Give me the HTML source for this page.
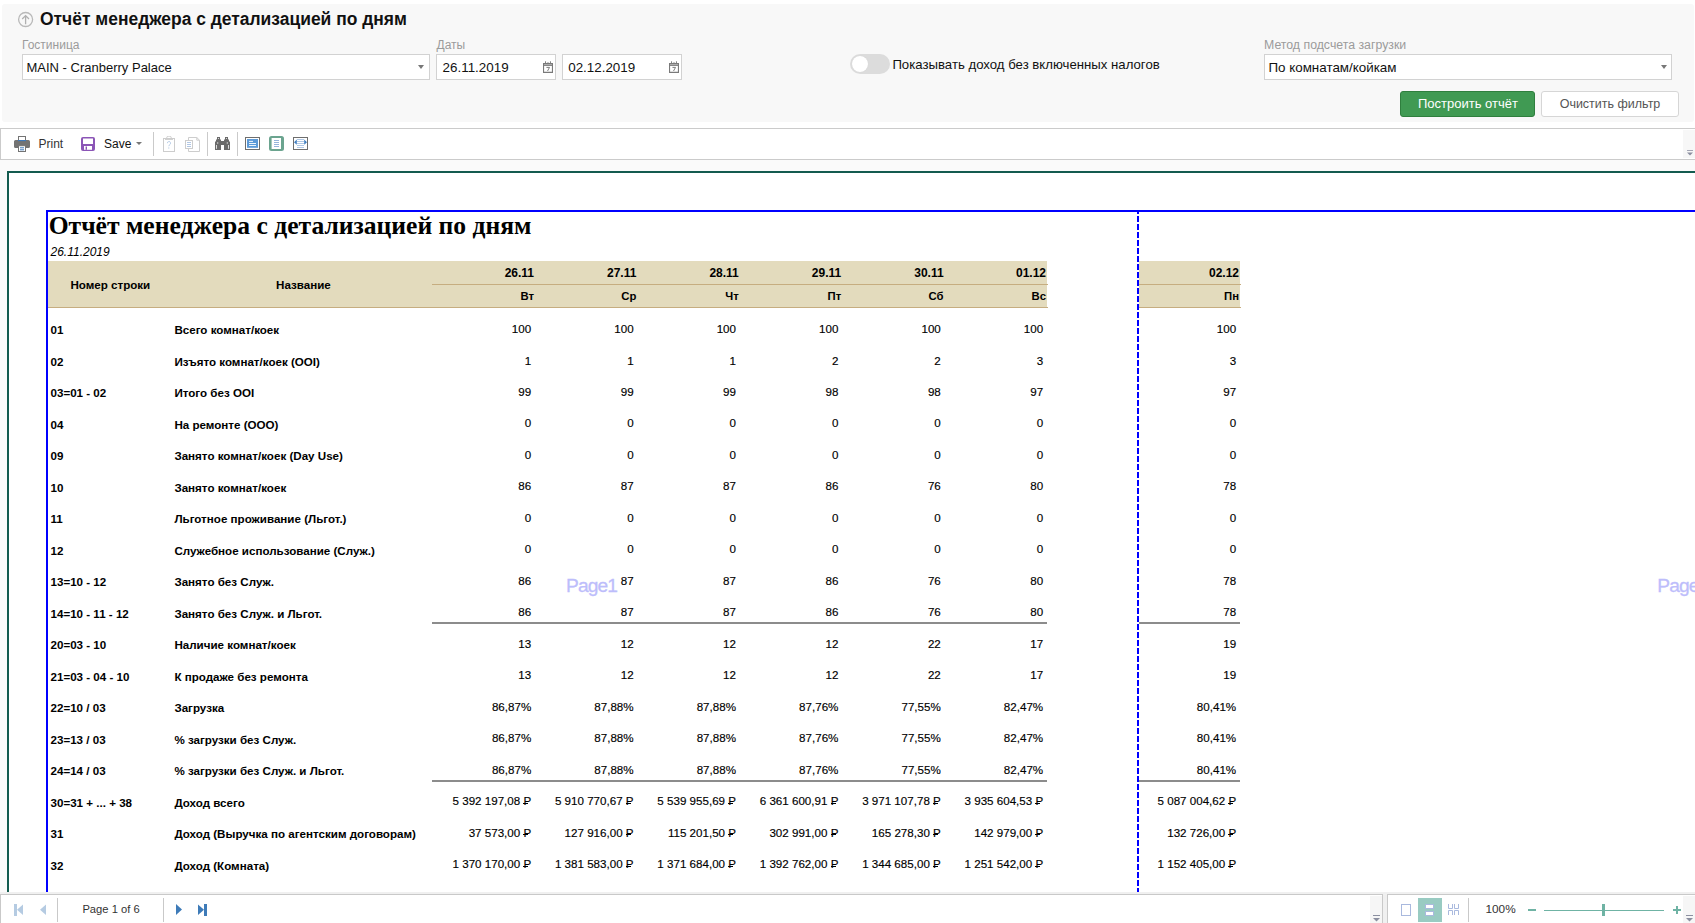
<!DOCTYPE html>
<html><head><meta charset="utf-8">
<style>
*{box-sizing:border-box;margin:0;padding:0}
html,body{width:1695px;height:923px;overflow:hidden;background:#fff;font-family:"Liberation Sans",sans-serif;color:#000}
.a{position:absolute;white-space:nowrap}
.arr{width:0;height:0;border-left:3.5px solid transparent;border-right:3.5px solid transparent;border-top:4.5px solid #777}
.rub{position:relative;display:inline-block}
.rub:after{content:"";position:absolute;left:0px;width:0.42em;top:0.66em;height:1px;background:currentColor}
</style></head><body>
<div class="a" style="left:2px;top:4px;width:1692px;height:118px;background:#f8f8f8;border-radius:3px"></div>
<svg class="a" style="left:17px;top:11px" width="18" height="18" viewBox="0 0 18 18"><circle cx="8.6" cy="8.5" r="7" fill="none" stroke="#b9b9b9" stroke-width="1.3"/><path d="M8.6 13.3V4.6M5.2 8L8.6 4.6L12 8" fill="none" stroke="#b0b0b0" stroke-width="1.3"/></svg>
<div class="a" style="top:11.23px;font-size:17.45px;line-height:17.45px;color:#111;font-weight:bold;left:40.00px;">Отчёт менеджера с детализацией по дням</div>
<div class="a" style="top:39.44px;font-size:12px;line-height:12px;color:#9b9b9b;left:22.00px;">Гостиница</div>
<div class="a" style="left:22px;top:54px;width:408px;height:26px;background:#fff;border:1px solid #d2d2d2"></div>
<div class="a" style="top:61.20px;font-size:13px;line-height:13px;color:#111;left:26.50px;">MAIN - Cranberry Palace</div>
<div class="a arr" style="left:418px;top:65px"></div>
<div class="a" style="top:39.44px;font-size:12px;line-height:12px;color:#9b9b9b;left:436.50px;">Даты</div>
<div class="a" style="left:436px;top:54px;width:120px;height:26px;background:#fff;border:1px solid #d2d2d2"></div>
<div class="a" style="left:562px;top:54px;width:120px;height:26px;background:#fff;border:1px solid #d2d2d2"></div>
<div class="a" style="top:60.56px;font-size:13.4px;line-height:13.4px;color:#111;left:442.60px;">26.11.2019</div>
<div class="a" style="top:60.56px;font-size:13.4px;line-height:13.4px;color:#111;left:568.20px;">02.12.2019</div>
<svg class="a" style="left:543px;top:61px" width="10" height="12" viewBox="0 0 11 12" preserveAspectRatio="none"><path d="M0.6 2.6H10.4V11.4H0.6Z" fill="none" stroke="#7a7a7a" stroke-width="1.2"/><path d="M0.6 4.2H10.4" stroke="#7a7a7a" stroke-width="1.4"/><path d="M2.8 0.3V3M8.2 0.3V3M5.5 1.2V2.6" stroke="#7a7a7a" stroke-width="1"/><path d="M3.8 6.4H7.2L5 10" fill="none" stroke="#7a7a7a" stroke-width="1"/></svg>
<svg class="a" style="left:669px;top:61px" width="10" height="12" viewBox="0 0 11 12" preserveAspectRatio="none"><path d="M0.6 2.6H10.4V11.4H0.6Z" fill="none" stroke="#7a7a7a" stroke-width="1.2"/><path d="M0.6 4.2H10.4" stroke="#7a7a7a" stroke-width="1.4"/><path d="M2.8 0.3V3M8.2 0.3V3M5.5 1.2V2.6" stroke="#7a7a7a" stroke-width="1"/><path d="M3.8 6.4H7.2L5 10" fill="none" stroke="#7a7a7a" stroke-width="1"/></svg>
<div class="a" style="left:850px;top:54px;width:40px;height:20px;background:#dcdcdc;border-radius:10px"></div>
<div class="a" style="left:852px;top:56px;width:16px;height:16px;background:#fff;border-radius:8px;box-shadow:0 0 1px #ccc"></div>
<div class="a" style="top:58.13px;font-size:13.2px;line-height:13.2px;color:#111;left:892.40px;">Показывать доход без включенных налогов</div>
<div class="a" style="top:39.19px;font-size:12.3px;line-height:12.3px;color:#9b9b9b;left:1264.00px;">Метод подсчета загрузки</div>
<div class="a" style="left:1264px;top:54px;width:408px;height:26px;background:#fff;border:1px solid #d2d2d2"></div>
<div class="a" style="top:60.86px;font-size:13.4px;line-height:13.4px;color:#111;left:1268.40px;">По комнатам/койкам</div>
<div class="a arr" style="left:1660.5px;top:65px"></div>
<div class="a" style="left:1400px;top:91px;width:135px;height:26px;background:#409a53;border:1px solid #2f7f3e;border-radius:3px"></div>
<div class="a" style="top:97.20px;font-size:13px;line-height:13px;color:#fff;left:1168.00px;width:600px;text-align:center;">Построить отчёт</div>
<div class="a" style="left:1541px;top:91px;width:138px;height:26px;background:#fff;border:1px solid #d6d6d6;border-radius:3px"></div>
<div class="a" style="top:97.62px;font-size:12.5px;line-height:12.5px;color:#555;left:1310.00px;width:600px;text-align:center;">Очистить фильтр</div>
<div class="a" style="left:0px;top:128px;width:1695px;height:32px;background:#fff;border-top:1px solid #cbcbcb;border-bottom:1px solid #cbcbcb;border-left:1px solid #cbcbcb"></div>
<div class="a" style="left:1683px;top:130px;width:12px;height:28px;background:#f7f7f7"></div>
<svg class="a" style="left:1687px;top:150px" width="6" height="6" viewBox="0 0 7 7"><path d="M0 0.5H7" stroke="#8b8fa0" stroke-width="1"/><path d="M0 3H7L3.5 6.5Z" fill="#8b8fa0"/></svg>
<svg class="a" style="left:14px;top:136px" width="16" height="16" viewBox="0 0 16 16"><rect x="4.5" y="0.5" width="7" height="5" fill="#fff" stroke="#737373" stroke-width="1"/><rect x="4" y="4" width="8" height="1.2" fill="#3d78b8"/><path d="M1.5 4H4V5.5H12V4H14.5A1.5 1.5 0 0 1 16 5.5V10.5A1.5 1.5 0 0 1 14.5 12H1.5A1.5 1.5 0 0 1 0 10.5V5.5A1.5 1.5 0 0 1 1.5 4Z" fill="#737373"/><rect x="4.5" y="9.7" width="7" height="5.8" fill="#fff" stroke="#737373" stroke-width="1"/><rect x="6" y="11.3" width="4" height="1" fill="#3d78b8"/><rect x="6" y="13.3" width="4" height="1" fill="#3d78b8"/></svg>
<div class="a" style="top:137.74px;font-size:12px;line-height:12px;color:#333;left:38.50px;">Print</div>
<svg class="a" style="left:81px;top:137px" width="14" height="14" viewBox="0 0 14 14"><rect x="0" y="0" width="14" height="14" rx="2" fill="#8b55b6"/><rect x="2" y="1.5" width="10" height="5.5" fill="#fff"/><rect x="3" y="9" width="8" height="3.8" fill="#fff"/><rect x="4.6" y="9.5" width="1.4" height="3.3" fill="#8b55b6"/></svg>
<div class="a" style="top:137.74px;font-size:12px;line-height:12px;color:#111;left:104.00px;">Save</div>
<div class="a arr" style="left:136px;top:142px;border-top-color:#777;border-left-width:3px;border-right-width:3px;border-top-width:3px"></div>
<div class="a" style="left:153px;top:132px;width:1px;height:24px;background:#cacaca"></div>
<div class="a" style="left:207px;top:132px;width:1px;height:24px;background:#cacaca"></div>
<div class="a" style="left:237px;top:132px;width:1px;height:24px;background:#cacaca"></div>
<svg class="a" style="left:163px;top:136px" width="12" height="16" viewBox="0 0 12 16"><rect x="0.5" y="2.5" width="11" height="13" fill="#fff" stroke="#cdcdcd" stroke-width="1"/><path d="M3.6 3V2.2A2.4 2.2 0 0 1 8.4 2.2V3" fill="none" stroke="#cdcdcd" stroke-width="1"/><rect x="2" y="2.6" width="8" height="1.3" fill="#cdcdcd"/><path d="M4.4 7.2A1.6 1.6 0 1 1 6.6 8.6L5.8 10.2" fill="none" stroke="#b2c8e4" stroke-width="0.9"/><rect x="5" y="11.6" width="1.4" height="0.8" fill="#b2c8e4"/></svg>
<svg class="a" style="left:185px;top:137px" width="15" height="15" viewBox="0 0 15 15"><path d="M3.5 0.5H11.8L14.5 3.2V14.5H3.5Z" fill="#fff" stroke="#cdcdcd" stroke-width="1"/><path d="M11.8 0.5V3.2H14.5" fill="none" stroke="#cdcdcd" stroke-width="1"/><rect x="0.5" y="3.5" width="7" height="8" fill="#fff" stroke="#cdcdcd" stroke-width="1"/><rect x="2" y="5" width="4" height="0.9" fill="#a9c1e2"/><rect x="2" y="7" width="4" height="0.9" fill="#a9c1e2"/><rect x="2" y="9" width="4" height="0.9" fill="#a9c1e2"/></svg>
<svg class="a" style="left:215px;top:137px" width="15" height="13" viewBox="0 0 15 13"><path d="M2 0H5V2.4H6V4H9V2.4H10V0H13V2.4H14V4.6H15V13H9V8H6V13H0V4.6H1V2.4H2Z" fill="#6b6b6b"/><rect x="1.1" y="8" width="0.9" height="3.8" fill="#fff" opacity="0.85"/><rect x="13" y="8" width="0.9" height="3.8" fill="#fff" opacity="0.85"/><rect x="2.3" y="5.2" width="0.9" height="1.6" fill="#fff" opacity="0.8"/><rect x="11.8" y="5.2" width="0.9" height="1.6" fill="#fff" opacity="0.8"/><rect x="3" y="1" width="1" height="0.9" fill="#fff" opacity="0.8"/><rect x="11" y="1" width="1" height="0.9" fill="#fff" opacity="0.8"/></svg>
<svg class="a" style="left:245px;top:137px" width="15" height="13" viewBox="0 0 15 13"><rect x="0.5" y="0.5" width="14" height="12" fill="#fff" stroke="#6e6e6e" stroke-width="1"/><rect x="2" y="2" width="11" height="8.8" fill="#5c9ad8"/><rect x="4" y="3.9" width="4" height="0.9" fill="#fff"/><rect x="4" y="6" width="7" height="0.9" fill="#fff"/><rect x="4" y="8" width="7" height="0.9" fill="#fff"/></svg>
<svg class="a" style="left:269px;top:136px" width="15" height="15" viewBox="0 0 15 15"><rect x="0" y="0" width="15" height="15" rx="2.5" fill="#6ba48f"/><rect x="2.6" y="2" width="9.4" height="11" fill="#fff"/><rect x="5" y="4.1" width="5" height="0.8" fill="#7ba3d3"/><rect x="5" y="6.1" width="5" height="0.8" fill="#7ba3d3"/><rect x="5" y="8.1" width="5" height="0.8" fill="#7ba3d3"/><rect x="5" y="10.1" width="5" height="0.8" fill="#7ba3d3"/></svg>
<svg class="a" style="left:293px;top:137px" width="15" height="13" viewBox="0 0 15 13"><rect x="0.5" y="0.5" width="14" height="12" fill="#fff" stroke="#6e6e6e" stroke-width="1"/><rect x="4" y="2.1" width="7" height="0.7" fill="#8fb1dc"/><rect x="4" y="4.1" width="7" height="0.7" fill="#8fb1dc"/><rect x="4" y="6.1" width="7" height="0.7" fill="#8fb1dc"/><rect x="4" y="8.1" width="7" height="0.7" fill="#8fb1dc"/><rect x="4" y="10.1" width="7" height="0.7" fill="#8fb1dc"/><path d="M1 5.2L3.8 2.6V7.8Z M14 5.2L11.2 2.6V7.8Z" fill="#3f7ec0"/></svg>
<div class="a" style="left:0px;top:160px;width:1695px;height:734px;background:#fafafa"></div>
<div class="a" style="left:7px;top:171px;width:1700px;height:721px;background:#fff;border-left:2px solid #135b4f;border-top:2px solid #135b4f"></div>
<div class="a" style="left:46px;top:210px;width:1660px;height:682px;border-left:2px solid #0000ff;border-top:2px solid #0000ff"></div>
<svg class="a" style="left:1137px;top:212px" width="2" height="680"><line x1="1" y1="-4" x2="1" y2="680" stroke="#0000ff" stroke-width="2" stroke-dasharray="6 2"/></svg>
<div class="a" style="top:213.16px;font-size:25.6px;line-height:25.6px;color:#000;font-weight:bold;font-family:'Liberation Serif',serif;left:48.70px;">Отчёт менеджера с детализацией по дням</div>
<div class="a" style="top:245.64px;font-size:12px;line-height:12px;color:#000;font-style:italic;left:50.50px;">26.11.2019</div>
<div class="a" style="left:48px;top:261px;width:999px;height:46px;background:#e3dbbd"></div>
<div class="a" style="left:1139px;top:261px;width:101px;height:46px;background:#e3dbbd"></div>
<div class="a" style="left:432px;top:284px;width:616px;height:1px;background:#c6ad80"></div>
<div class="a" style="left:48px;top:307px;width:1000px;height:1.3px;background:#c6ad80"></div>
<div class="a" style="left:1139px;top:284px;width:102px;height:1px;background:#c6ad80"></div>
<div class="a" style="left:1139px;top:307px;width:102px;height:1.3px;background:#c6ad80"></div>
<div class="a" style="top:279.08px;font-size:11.6px;line-height:11.6px;color:#000;font-weight:bold;left:-189.70px;width:600px;text-align:center;">Номер строки</div>
<div class="a" style="top:279.18px;font-size:11.6px;line-height:11.6px;color:#000;font-weight:bold;left:3.40px;width:600px;text-align:center;">Название</div>
<div class="a" style="top:266.84px;font-size:12px;line-height:12px;color:#000;font-weight:bold;left:-66.00px;width:600px;text-align:right;">26.11</div>
<div class="a" style="top:291.03px;font-size:11.3px;line-height:11.3px;color:#000;font-weight:bold;left:-66.00px;width:600px;text-align:right;">Вт</div>
<div class="a" style="top:266.84px;font-size:12px;line-height:12px;color:#000;font-weight:bold;left:36.40px;width:600px;text-align:right;">27.11</div>
<div class="a" style="top:291.03px;font-size:11.3px;line-height:11.3px;color:#000;font-weight:bold;left:36.40px;width:600px;text-align:right;">Ср</div>
<div class="a" style="top:266.84px;font-size:12px;line-height:12px;color:#000;font-weight:bold;left:138.80px;width:600px;text-align:right;">28.11</div>
<div class="a" style="top:291.03px;font-size:11.3px;line-height:11.3px;color:#000;font-weight:bold;left:138.80px;width:600px;text-align:right;">Чт</div>
<div class="a" style="top:266.84px;font-size:12px;line-height:12px;color:#000;font-weight:bold;left:241.20px;width:600px;text-align:right;">29.11</div>
<div class="a" style="top:291.03px;font-size:11.3px;line-height:11.3px;color:#000;font-weight:bold;left:241.20px;width:600px;text-align:right;">Пт</div>
<div class="a" style="top:266.84px;font-size:12px;line-height:12px;color:#000;font-weight:bold;left:343.60px;width:600px;text-align:right;">30.11</div>
<div class="a" style="top:291.03px;font-size:11.3px;line-height:11.3px;color:#000;font-weight:bold;left:343.60px;width:600px;text-align:right;">Сб</div>
<div class="a" style="top:266.84px;font-size:12px;line-height:12px;color:#000;font-weight:bold;left:446.00px;width:600px;text-align:right;">01.12</div>
<div class="a" style="top:291.03px;font-size:11.3px;line-height:11.3px;color:#000;font-weight:bold;left:446.00px;width:600px;text-align:right;">Вс</div>
<div class="a" style="top:266.84px;font-size:12px;line-height:12px;color:#000;font-weight:bold;left:639.00px;width:600px;text-align:right;">02.12</div>
<div class="a" style="top:291.03px;font-size:11.3px;line-height:11.3px;color:#000;font-weight:bold;left:639.00px;width:600px;text-align:right;">Пн</div>
<div class="a" style="top:324.43px;font-size:11.6px;line-height:11.6px;color:#000;font-weight:bold;left:50.50px;">01</div>
<div class="a" style="top:324.43px;font-size:11.6px;line-height:11.6px;color:#000;font-weight:bold;left:174.40px;">Всего комнат/коек</div>
<div class="a" style="top:323.03px;font-size:11.6px;line-height:11.6px;color:#000;left:-68.80px;width:600px;text-align:right;-webkit-text-stroke:0.15px #000;">100</div>
<div class="a" style="top:323.03px;font-size:11.6px;line-height:11.6px;color:#000;left:33.60px;width:600px;text-align:right;-webkit-text-stroke:0.15px #000;">100</div>
<div class="a" style="top:323.03px;font-size:11.6px;line-height:11.6px;color:#000;left:136.00px;width:600px;text-align:right;-webkit-text-stroke:0.15px #000;">100</div>
<div class="a" style="top:323.03px;font-size:11.6px;line-height:11.6px;color:#000;left:238.40px;width:600px;text-align:right;-webkit-text-stroke:0.15px #000;">100</div>
<div class="a" style="top:323.03px;font-size:11.6px;line-height:11.6px;color:#000;left:340.80px;width:600px;text-align:right;-webkit-text-stroke:0.15px #000;">100</div>
<div class="a" style="top:323.03px;font-size:11.6px;line-height:11.6px;color:#000;left:443.20px;width:600px;text-align:right;-webkit-text-stroke:0.15px #000;">100</div>
<div class="a" style="top:323.03px;font-size:11.6px;line-height:11.6px;color:#000;left:636.20px;width:600px;text-align:right;-webkit-text-stroke:0.15px #000;">100</div>
<div class="a" style="top:355.91px;font-size:11.6px;line-height:11.6px;color:#000;font-weight:bold;left:50.50px;">02</div>
<div class="a" style="top:355.91px;font-size:11.6px;line-height:11.6px;color:#000;font-weight:bold;left:174.40px;">Изъято комнат/коек (OOI)</div>
<div class="a" style="top:354.51px;font-size:11.6px;line-height:11.6px;color:#000;left:-68.80px;width:600px;text-align:right;-webkit-text-stroke:0.15px #000;">1</div>
<div class="a" style="top:354.51px;font-size:11.6px;line-height:11.6px;color:#000;left:33.60px;width:600px;text-align:right;-webkit-text-stroke:0.15px #000;">1</div>
<div class="a" style="top:354.51px;font-size:11.6px;line-height:11.6px;color:#000;left:136.00px;width:600px;text-align:right;-webkit-text-stroke:0.15px #000;">1</div>
<div class="a" style="top:354.51px;font-size:11.6px;line-height:11.6px;color:#000;left:238.40px;width:600px;text-align:right;-webkit-text-stroke:0.15px #000;">2</div>
<div class="a" style="top:354.51px;font-size:11.6px;line-height:11.6px;color:#000;left:340.80px;width:600px;text-align:right;-webkit-text-stroke:0.15px #000;">2</div>
<div class="a" style="top:354.51px;font-size:11.6px;line-height:11.6px;color:#000;left:443.20px;width:600px;text-align:right;-webkit-text-stroke:0.15px #000;">3</div>
<div class="a" style="top:354.51px;font-size:11.6px;line-height:11.6px;color:#000;left:636.20px;width:600px;text-align:right;-webkit-text-stroke:0.15px #000;">3</div>
<div class="a" style="top:387.39px;font-size:11.6px;line-height:11.6px;color:#000;font-weight:bold;left:50.50px;">03=01 - 02</div>
<div class="a" style="top:387.39px;font-size:11.6px;line-height:11.6px;color:#000;font-weight:bold;left:174.40px;">Итого без OOI</div>
<div class="a" style="top:385.99px;font-size:11.6px;line-height:11.6px;color:#000;left:-68.80px;width:600px;text-align:right;-webkit-text-stroke:0.15px #000;">99</div>
<div class="a" style="top:385.99px;font-size:11.6px;line-height:11.6px;color:#000;left:33.60px;width:600px;text-align:right;-webkit-text-stroke:0.15px #000;">99</div>
<div class="a" style="top:385.99px;font-size:11.6px;line-height:11.6px;color:#000;left:136.00px;width:600px;text-align:right;-webkit-text-stroke:0.15px #000;">99</div>
<div class="a" style="top:385.99px;font-size:11.6px;line-height:11.6px;color:#000;left:238.40px;width:600px;text-align:right;-webkit-text-stroke:0.15px #000;">98</div>
<div class="a" style="top:385.99px;font-size:11.6px;line-height:11.6px;color:#000;left:340.80px;width:600px;text-align:right;-webkit-text-stroke:0.15px #000;">98</div>
<div class="a" style="top:385.99px;font-size:11.6px;line-height:11.6px;color:#000;left:443.20px;width:600px;text-align:right;-webkit-text-stroke:0.15px #000;">97</div>
<div class="a" style="top:385.99px;font-size:11.6px;line-height:11.6px;color:#000;left:636.20px;width:600px;text-align:right;-webkit-text-stroke:0.15px #000;">97</div>
<div class="a" style="top:418.87px;font-size:11.6px;line-height:11.6px;color:#000;font-weight:bold;left:50.50px;">04</div>
<div class="a" style="top:418.87px;font-size:11.6px;line-height:11.6px;color:#000;font-weight:bold;left:174.40px;">На ремонте (OOO)</div>
<div class="a" style="top:417.47px;font-size:11.6px;line-height:11.6px;color:#000;left:-68.80px;width:600px;text-align:right;-webkit-text-stroke:0.15px #000;">0</div>
<div class="a" style="top:417.47px;font-size:11.6px;line-height:11.6px;color:#000;left:33.60px;width:600px;text-align:right;-webkit-text-stroke:0.15px #000;">0</div>
<div class="a" style="top:417.47px;font-size:11.6px;line-height:11.6px;color:#000;left:136.00px;width:600px;text-align:right;-webkit-text-stroke:0.15px #000;">0</div>
<div class="a" style="top:417.47px;font-size:11.6px;line-height:11.6px;color:#000;left:238.40px;width:600px;text-align:right;-webkit-text-stroke:0.15px #000;">0</div>
<div class="a" style="top:417.47px;font-size:11.6px;line-height:11.6px;color:#000;left:340.80px;width:600px;text-align:right;-webkit-text-stroke:0.15px #000;">0</div>
<div class="a" style="top:417.47px;font-size:11.6px;line-height:11.6px;color:#000;left:443.20px;width:600px;text-align:right;-webkit-text-stroke:0.15px #000;">0</div>
<div class="a" style="top:417.47px;font-size:11.6px;line-height:11.6px;color:#000;left:636.20px;width:600px;text-align:right;-webkit-text-stroke:0.15px #000;">0</div>
<div class="a" style="top:450.35px;font-size:11.6px;line-height:11.6px;color:#000;font-weight:bold;left:50.50px;">09</div>
<div class="a" style="top:450.35px;font-size:11.6px;line-height:11.6px;color:#000;font-weight:bold;left:174.40px;">Занято комнат/коек (Day Use)</div>
<div class="a" style="top:448.95px;font-size:11.6px;line-height:11.6px;color:#000;left:-68.80px;width:600px;text-align:right;-webkit-text-stroke:0.15px #000;">0</div>
<div class="a" style="top:448.95px;font-size:11.6px;line-height:11.6px;color:#000;left:33.60px;width:600px;text-align:right;-webkit-text-stroke:0.15px #000;">0</div>
<div class="a" style="top:448.95px;font-size:11.6px;line-height:11.6px;color:#000;left:136.00px;width:600px;text-align:right;-webkit-text-stroke:0.15px #000;">0</div>
<div class="a" style="top:448.95px;font-size:11.6px;line-height:11.6px;color:#000;left:238.40px;width:600px;text-align:right;-webkit-text-stroke:0.15px #000;">0</div>
<div class="a" style="top:448.95px;font-size:11.6px;line-height:11.6px;color:#000;left:340.80px;width:600px;text-align:right;-webkit-text-stroke:0.15px #000;">0</div>
<div class="a" style="top:448.95px;font-size:11.6px;line-height:11.6px;color:#000;left:443.20px;width:600px;text-align:right;-webkit-text-stroke:0.15px #000;">0</div>
<div class="a" style="top:448.95px;font-size:11.6px;line-height:11.6px;color:#000;left:636.20px;width:600px;text-align:right;-webkit-text-stroke:0.15px #000;">0</div>
<div class="a" style="top:481.83px;font-size:11.6px;line-height:11.6px;color:#000;font-weight:bold;left:50.50px;">10</div>
<div class="a" style="top:481.83px;font-size:11.6px;line-height:11.6px;color:#000;font-weight:bold;left:174.40px;">Занято комнат/коек</div>
<div class="a" style="top:480.43px;font-size:11.6px;line-height:11.6px;color:#000;left:-68.80px;width:600px;text-align:right;-webkit-text-stroke:0.15px #000;">86</div>
<div class="a" style="top:480.43px;font-size:11.6px;line-height:11.6px;color:#000;left:33.60px;width:600px;text-align:right;-webkit-text-stroke:0.15px #000;">87</div>
<div class="a" style="top:480.43px;font-size:11.6px;line-height:11.6px;color:#000;left:136.00px;width:600px;text-align:right;-webkit-text-stroke:0.15px #000;">87</div>
<div class="a" style="top:480.43px;font-size:11.6px;line-height:11.6px;color:#000;left:238.40px;width:600px;text-align:right;-webkit-text-stroke:0.15px #000;">86</div>
<div class="a" style="top:480.43px;font-size:11.6px;line-height:11.6px;color:#000;left:340.80px;width:600px;text-align:right;-webkit-text-stroke:0.15px #000;">76</div>
<div class="a" style="top:480.43px;font-size:11.6px;line-height:11.6px;color:#000;left:443.20px;width:600px;text-align:right;-webkit-text-stroke:0.15px #000;">80</div>
<div class="a" style="top:480.43px;font-size:11.6px;line-height:11.6px;color:#000;left:636.20px;width:600px;text-align:right;-webkit-text-stroke:0.15px #000;">78</div>
<div class="a" style="top:513.31px;font-size:11.6px;line-height:11.6px;color:#000;font-weight:bold;left:50.50px;">11</div>
<div class="a" style="top:513.31px;font-size:11.6px;line-height:11.6px;color:#000;font-weight:bold;left:174.40px;">Льготное проживание (Льгот.)</div>
<div class="a" style="top:511.91px;font-size:11.6px;line-height:11.6px;color:#000;left:-68.80px;width:600px;text-align:right;-webkit-text-stroke:0.15px #000;">0</div>
<div class="a" style="top:511.91px;font-size:11.6px;line-height:11.6px;color:#000;left:33.60px;width:600px;text-align:right;-webkit-text-stroke:0.15px #000;">0</div>
<div class="a" style="top:511.91px;font-size:11.6px;line-height:11.6px;color:#000;left:136.00px;width:600px;text-align:right;-webkit-text-stroke:0.15px #000;">0</div>
<div class="a" style="top:511.91px;font-size:11.6px;line-height:11.6px;color:#000;left:238.40px;width:600px;text-align:right;-webkit-text-stroke:0.15px #000;">0</div>
<div class="a" style="top:511.91px;font-size:11.6px;line-height:11.6px;color:#000;left:340.80px;width:600px;text-align:right;-webkit-text-stroke:0.15px #000;">0</div>
<div class="a" style="top:511.91px;font-size:11.6px;line-height:11.6px;color:#000;left:443.20px;width:600px;text-align:right;-webkit-text-stroke:0.15px #000;">0</div>
<div class="a" style="top:511.91px;font-size:11.6px;line-height:11.6px;color:#000;left:636.20px;width:600px;text-align:right;-webkit-text-stroke:0.15px #000;">0</div>
<div class="a" style="top:544.79px;font-size:11.6px;line-height:11.6px;color:#000;font-weight:bold;left:50.50px;">12</div>
<div class="a" style="top:544.79px;font-size:11.6px;line-height:11.6px;color:#000;font-weight:bold;left:174.40px;">Служебное использование (Служ.)</div>
<div class="a" style="top:543.39px;font-size:11.6px;line-height:11.6px;color:#000;left:-68.80px;width:600px;text-align:right;-webkit-text-stroke:0.15px #000;">0</div>
<div class="a" style="top:543.39px;font-size:11.6px;line-height:11.6px;color:#000;left:33.60px;width:600px;text-align:right;-webkit-text-stroke:0.15px #000;">0</div>
<div class="a" style="top:543.39px;font-size:11.6px;line-height:11.6px;color:#000;left:136.00px;width:600px;text-align:right;-webkit-text-stroke:0.15px #000;">0</div>
<div class="a" style="top:543.39px;font-size:11.6px;line-height:11.6px;color:#000;left:238.40px;width:600px;text-align:right;-webkit-text-stroke:0.15px #000;">0</div>
<div class="a" style="top:543.39px;font-size:11.6px;line-height:11.6px;color:#000;left:340.80px;width:600px;text-align:right;-webkit-text-stroke:0.15px #000;">0</div>
<div class="a" style="top:543.39px;font-size:11.6px;line-height:11.6px;color:#000;left:443.20px;width:600px;text-align:right;-webkit-text-stroke:0.15px #000;">0</div>
<div class="a" style="top:543.39px;font-size:11.6px;line-height:11.6px;color:#000;left:636.20px;width:600px;text-align:right;-webkit-text-stroke:0.15px #000;">0</div>
<div class="a" style="top:576.27px;font-size:11.6px;line-height:11.6px;color:#000;font-weight:bold;left:50.50px;">13=10 - 12</div>
<div class="a" style="top:576.27px;font-size:11.6px;line-height:11.6px;color:#000;font-weight:bold;left:174.40px;">Занято без Служ.</div>
<div class="a" style="top:574.87px;font-size:11.6px;line-height:11.6px;color:#000;left:-68.80px;width:600px;text-align:right;-webkit-text-stroke:0.15px #000;">86</div>
<div class="a" style="top:574.87px;font-size:11.6px;line-height:11.6px;color:#000;left:33.60px;width:600px;text-align:right;-webkit-text-stroke:0.15px #000;">87</div>
<div class="a" style="top:574.87px;font-size:11.6px;line-height:11.6px;color:#000;left:136.00px;width:600px;text-align:right;-webkit-text-stroke:0.15px #000;">87</div>
<div class="a" style="top:574.87px;font-size:11.6px;line-height:11.6px;color:#000;left:238.40px;width:600px;text-align:right;-webkit-text-stroke:0.15px #000;">86</div>
<div class="a" style="top:574.87px;font-size:11.6px;line-height:11.6px;color:#000;left:340.80px;width:600px;text-align:right;-webkit-text-stroke:0.15px #000;">76</div>
<div class="a" style="top:574.87px;font-size:11.6px;line-height:11.6px;color:#000;left:443.20px;width:600px;text-align:right;-webkit-text-stroke:0.15px #000;">80</div>
<div class="a" style="top:574.87px;font-size:11.6px;line-height:11.6px;color:#000;left:636.20px;width:600px;text-align:right;-webkit-text-stroke:0.15px #000;">78</div>
<div class="a" style="top:607.75px;font-size:11.6px;line-height:11.6px;color:#000;font-weight:bold;left:50.50px;">14=10 - 11 - 12</div>
<div class="a" style="top:607.75px;font-size:11.6px;line-height:11.6px;color:#000;font-weight:bold;left:174.40px;">Занято без Служ. и Льгот.</div>
<div class="a" style="top:606.35px;font-size:11.6px;line-height:11.6px;color:#000;left:-68.80px;width:600px;text-align:right;-webkit-text-stroke:0.15px #000;">86</div>
<div class="a" style="top:606.35px;font-size:11.6px;line-height:11.6px;color:#000;left:33.60px;width:600px;text-align:right;-webkit-text-stroke:0.15px #000;">87</div>
<div class="a" style="top:606.35px;font-size:11.6px;line-height:11.6px;color:#000;left:136.00px;width:600px;text-align:right;-webkit-text-stroke:0.15px #000;">87</div>
<div class="a" style="top:606.35px;font-size:11.6px;line-height:11.6px;color:#000;left:238.40px;width:600px;text-align:right;-webkit-text-stroke:0.15px #000;">86</div>
<div class="a" style="top:606.35px;font-size:11.6px;line-height:11.6px;color:#000;left:340.80px;width:600px;text-align:right;-webkit-text-stroke:0.15px #000;">76</div>
<div class="a" style="top:606.35px;font-size:11.6px;line-height:11.6px;color:#000;left:443.20px;width:600px;text-align:right;-webkit-text-stroke:0.15px #000;">80</div>
<div class="a" style="top:606.35px;font-size:11.6px;line-height:11.6px;color:#000;left:636.20px;width:600px;text-align:right;-webkit-text-stroke:0.15px #000;">78</div>
<div class="a" style="top:639.23px;font-size:11.6px;line-height:11.6px;color:#000;font-weight:bold;left:50.50px;">20=03 - 10</div>
<div class="a" style="top:639.23px;font-size:11.6px;line-height:11.6px;color:#000;font-weight:bold;left:174.40px;">Наличие комнат/коек</div>
<div class="a" style="top:637.83px;font-size:11.6px;line-height:11.6px;color:#000;left:-68.80px;width:600px;text-align:right;-webkit-text-stroke:0.15px #000;">13</div>
<div class="a" style="top:637.83px;font-size:11.6px;line-height:11.6px;color:#000;left:33.60px;width:600px;text-align:right;-webkit-text-stroke:0.15px #000;">12</div>
<div class="a" style="top:637.83px;font-size:11.6px;line-height:11.6px;color:#000;left:136.00px;width:600px;text-align:right;-webkit-text-stroke:0.15px #000;">12</div>
<div class="a" style="top:637.83px;font-size:11.6px;line-height:11.6px;color:#000;left:238.40px;width:600px;text-align:right;-webkit-text-stroke:0.15px #000;">12</div>
<div class="a" style="top:637.83px;font-size:11.6px;line-height:11.6px;color:#000;left:340.80px;width:600px;text-align:right;-webkit-text-stroke:0.15px #000;">22</div>
<div class="a" style="top:637.83px;font-size:11.6px;line-height:11.6px;color:#000;left:443.20px;width:600px;text-align:right;-webkit-text-stroke:0.15px #000;">17</div>
<div class="a" style="top:637.83px;font-size:11.6px;line-height:11.6px;color:#000;left:636.20px;width:600px;text-align:right;-webkit-text-stroke:0.15px #000;">19</div>
<div class="a" style="top:670.71px;font-size:11.6px;line-height:11.6px;color:#000;font-weight:bold;left:50.50px;">21=03 - 04 - 10</div>
<div class="a" style="top:670.71px;font-size:11.6px;line-height:11.6px;color:#000;font-weight:bold;left:174.40px;">К продаже без ремонта</div>
<div class="a" style="top:669.31px;font-size:11.6px;line-height:11.6px;color:#000;left:-68.80px;width:600px;text-align:right;-webkit-text-stroke:0.15px #000;">13</div>
<div class="a" style="top:669.31px;font-size:11.6px;line-height:11.6px;color:#000;left:33.60px;width:600px;text-align:right;-webkit-text-stroke:0.15px #000;">12</div>
<div class="a" style="top:669.31px;font-size:11.6px;line-height:11.6px;color:#000;left:136.00px;width:600px;text-align:right;-webkit-text-stroke:0.15px #000;">12</div>
<div class="a" style="top:669.31px;font-size:11.6px;line-height:11.6px;color:#000;left:238.40px;width:600px;text-align:right;-webkit-text-stroke:0.15px #000;">12</div>
<div class="a" style="top:669.31px;font-size:11.6px;line-height:11.6px;color:#000;left:340.80px;width:600px;text-align:right;-webkit-text-stroke:0.15px #000;">22</div>
<div class="a" style="top:669.31px;font-size:11.6px;line-height:11.6px;color:#000;left:443.20px;width:600px;text-align:right;-webkit-text-stroke:0.15px #000;">17</div>
<div class="a" style="top:669.31px;font-size:11.6px;line-height:11.6px;color:#000;left:636.20px;width:600px;text-align:right;-webkit-text-stroke:0.15px #000;">19</div>
<div class="a" style="top:702.19px;font-size:11.6px;line-height:11.6px;color:#000;font-weight:bold;left:50.50px;">22=10 / 03</div>
<div class="a" style="top:702.19px;font-size:11.6px;line-height:11.6px;color:#000;font-weight:bold;left:174.40px;">Загрузка</div>
<div class="a" style="top:700.79px;font-size:11.6px;line-height:11.6px;color:#000;left:-68.80px;width:600px;text-align:right;-webkit-text-stroke:0.15px #000;">86,87%</div>
<div class="a" style="top:700.79px;font-size:11.6px;line-height:11.6px;color:#000;left:33.60px;width:600px;text-align:right;-webkit-text-stroke:0.15px #000;">87,88%</div>
<div class="a" style="top:700.79px;font-size:11.6px;line-height:11.6px;color:#000;left:136.00px;width:600px;text-align:right;-webkit-text-stroke:0.15px #000;">87,88%</div>
<div class="a" style="top:700.79px;font-size:11.6px;line-height:11.6px;color:#000;left:238.40px;width:600px;text-align:right;-webkit-text-stroke:0.15px #000;">87,76%</div>
<div class="a" style="top:700.79px;font-size:11.6px;line-height:11.6px;color:#000;left:340.80px;width:600px;text-align:right;-webkit-text-stroke:0.15px #000;">77,55%</div>
<div class="a" style="top:700.79px;font-size:11.6px;line-height:11.6px;color:#000;left:443.20px;width:600px;text-align:right;-webkit-text-stroke:0.15px #000;">82,47%</div>
<div class="a" style="top:700.79px;font-size:11.6px;line-height:11.6px;color:#000;left:636.20px;width:600px;text-align:right;-webkit-text-stroke:0.15px #000;">80,41%</div>
<div class="a" style="top:733.67px;font-size:11.6px;line-height:11.6px;color:#000;font-weight:bold;left:50.50px;">23=13 / 03</div>
<div class="a" style="top:733.67px;font-size:11.6px;line-height:11.6px;color:#000;font-weight:bold;left:174.40px;">% загрузки без Служ.</div>
<div class="a" style="top:732.27px;font-size:11.6px;line-height:11.6px;color:#000;left:-68.80px;width:600px;text-align:right;-webkit-text-stroke:0.15px #000;">86,87%</div>
<div class="a" style="top:732.27px;font-size:11.6px;line-height:11.6px;color:#000;left:33.60px;width:600px;text-align:right;-webkit-text-stroke:0.15px #000;">87,88%</div>
<div class="a" style="top:732.27px;font-size:11.6px;line-height:11.6px;color:#000;left:136.00px;width:600px;text-align:right;-webkit-text-stroke:0.15px #000;">87,88%</div>
<div class="a" style="top:732.27px;font-size:11.6px;line-height:11.6px;color:#000;left:238.40px;width:600px;text-align:right;-webkit-text-stroke:0.15px #000;">87,76%</div>
<div class="a" style="top:732.27px;font-size:11.6px;line-height:11.6px;color:#000;left:340.80px;width:600px;text-align:right;-webkit-text-stroke:0.15px #000;">77,55%</div>
<div class="a" style="top:732.27px;font-size:11.6px;line-height:11.6px;color:#000;left:443.20px;width:600px;text-align:right;-webkit-text-stroke:0.15px #000;">82,47%</div>
<div class="a" style="top:732.27px;font-size:11.6px;line-height:11.6px;color:#000;left:636.20px;width:600px;text-align:right;-webkit-text-stroke:0.15px #000;">80,41%</div>
<div class="a" style="top:765.15px;font-size:11.6px;line-height:11.6px;color:#000;font-weight:bold;left:50.50px;">24=14 / 03</div>
<div class="a" style="top:765.15px;font-size:11.6px;line-height:11.6px;color:#000;font-weight:bold;left:174.40px;">% загрузки без Служ. и Льгот.</div>
<div class="a" style="top:763.75px;font-size:11.6px;line-height:11.6px;color:#000;left:-68.80px;width:600px;text-align:right;-webkit-text-stroke:0.15px #000;">86,87%</div>
<div class="a" style="top:763.75px;font-size:11.6px;line-height:11.6px;color:#000;left:33.60px;width:600px;text-align:right;-webkit-text-stroke:0.15px #000;">87,88%</div>
<div class="a" style="top:763.75px;font-size:11.6px;line-height:11.6px;color:#000;left:136.00px;width:600px;text-align:right;-webkit-text-stroke:0.15px #000;">87,88%</div>
<div class="a" style="top:763.75px;font-size:11.6px;line-height:11.6px;color:#000;left:238.40px;width:600px;text-align:right;-webkit-text-stroke:0.15px #000;">87,76%</div>
<div class="a" style="top:763.75px;font-size:11.6px;line-height:11.6px;color:#000;left:340.80px;width:600px;text-align:right;-webkit-text-stroke:0.15px #000;">77,55%</div>
<div class="a" style="top:763.75px;font-size:11.6px;line-height:11.6px;color:#000;left:443.20px;width:600px;text-align:right;-webkit-text-stroke:0.15px #000;">82,47%</div>
<div class="a" style="top:763.75px;font-size:11.6px;line-height:11.6px;color:#000;left:636.20px;width:600px;text-align:right;-webkit-text-stroke:0.15px #000;">80,41%</div>
<div class="a" style="top:796.63px;font-size:11.6px;line-height:11.6px;color:#000;font-weight:bold;left:50.50px;">30=31 + ... + 38</div>
<div class="a" style="top:796.63px;font-size:11.6px;line-height:11.6px;color:#000;font-weight:bold;left:174.40px;">Доход всего</div>
<div class="a" style="top:795.23px;font-size:11.6px;line-height:11.6px;color:#000;left:-68.80px;width:600px;text-align:right;-webkit-text-stroke:0.15px #000;">5 392 197,08 <span class="rub">Р</span></div>
<div class="a" style="top:795.23px;font-size:11.6px;line-height:11.6px;color:#000;left:33.60px;width:600px;text-align:right;-webkit-text-stroke:0.15px #000;">5 910 770,67 <span class="rub">Р</span></div>
<div class="a" style="top:795.23px;font-size:11.6px;line-height:11.6px;color:#000;left:136.00px;width:600px;text-align:right;-webkit-text-stroke:0.15px #000;">5 539 955,69 <span class="rub">Р</span></div>
<div class="a" style="top:795.23px;font-size:11.6px;line-height:11.6px;color:#000;left:238.40px;width:600px;text-align:right;-webkit-text-stroke:0.15px #000;">6 361 600,91 <span class="rub">Р</span></div>
<div class="a" style="top:795.23px;font-size:11.6px;line-height:11.6px;color:#000;left:340.80px;width:600px;text-align:right;-webkit-text-stroke:0.15px #000;">3 971 107,78 <span class="rub">Р</span></div>
<div class="a" style="top:795.23px;font-size:11.6px;line-height:11.6px;color:#000;left:443.20px;width:600px;text-align:right;-webkit-text-stroke:0.15px #000;">3 935 604,53 <span class="rub">Р</span></div>
<div class="a" style="top:795.23px;font-size:11.6px;line-height:11.6px;color:#000;left:636.20px;width:600px;text-align:right;-webkit-text-stroke:0.15px #000;">5 087 004,62 <span class="rub">Р</span></div>
<div class="a" style="top:828.11px;font-size:11.6px;line-height:11.6px;color:#000;font-weight:bold;left:50.50px;">31</div>
<div class="a" style="top:828.11px;font-size:11.6px;line-height:11.6px;color:#000;font-weight:bold;left:174.40px;">Доход (Выручка по агентским договорам)</div>
<div class="a" style="top:826.71px;font-size:11.6px;line-height:11.6px;color:#000;left:-68.80px;width:600px;text-align:right;-webkit-text-stroke:0.15px #000;">37 573,00 <span class="rub">Р</span></div>
<div class="a" style="top:826.71px;font-size:11.6px;line-height:11.6px;color:#000;left:33.60px;width:600px;text-align:right;-webkit-text-stroke:0.15px #000;">127 916,00 <span class="rub">Р</span></div>
<div class="a" style="top:826.71px;font-size:11.6px;line-height:11.6px;color:#000;left:136.00px;width:600px;text-align:right;-webkit-text-stroke:0.15px #000;">115 201,50 <span class="rub">Р</span></div>
<div class="a" style="top:826.71px;font-size:11.6px;line-height:11.6px;color:#000;left:238.40px;width:600px;text-align:right;-webkit-text-stroke:0.15px #000;">302 991,00 <span class="rub">Р</span></div>
<div class="a" style="top:826.71px;font-size:11.6px;line-height:11.6px;color:#000;left:340.80px;width:600px;text-align:right;-webkit-text-stroke:0.15px #000;">165 278,30 <span class="rub">Р</span></div>
<div class="a" style="top:826.71px;font-size:11.6px;line-height:11.6px;color:#000;left:443.20px;width:600px;text-align:right;-webkit-text-stroke:0.15px #000;">142 979,00 <span class="rub">Р</span></div>
<div class="a" style="top:826.71px;font-size:11.6px;line-height:11.6px;color:#000;left:636.20px;width:600px;text-align:right;-webkit-text-stroke:0.15px #000;">132 726,00 <span class="rub">Р</span></div>
<div class="a" style="top:859.59px;font-size:11.6px;line-height:11.6px;color:#000;font-weight:bold;left:50.50px;">32</div>
<div class="a" style="top:859.59px;font-size:11.6px;line-height:11.6px;color:#000;font-weight:bold;left:174.40px;">Доход (Комната)</div>
<div class="a" style="top:858.19px;font-size:11.6px;line-height:11.6px;color:#000;left:-68.80px;width:600px;text-align:right;-webkit-text-stroke:0.15px #000;">1 370 170,00 <span class="rub">Р</span></div>
<div class="a" style="top:858.19px;font-size:11.6px;line-height:11.6px;color:#000;left:33.60px;width:600px;text-align:right;-webkit-text-stroke:0.15px #000;">1 381 583,00 <span class="rub">Р</span></div>
<div class="a" style="top:858.19px;font-size:11.6px;line-height:11.6px;color:#000;left:136.00px;width:600px;text-align:right;-webkit-text-stroke:0.15px #000;">1 371 684,00 <span class="rub">Р</span></div>
<div class="a" style="top:858.19px;font-size:11.6px;line-height:11.6px;color:#000;left:238.40px;width:600px;text-align:right;-webkit-text-stroke:0.15px #000;">1 392 762,00 <span class="rub">Р</span></div>
<div class="a" style="top:858.19px;font-size:11.6px;line-height:11.6px;color:#000;left:340.80px;width:600px;text-align:right;-webkit-text-stroke:0.15px #000;">1 344 685,00 <span class="rub">Р</span></div>
<div class="a" style="top:858.19px;font-size:11.6px;line-height:11.6px;color:#000;left:443.20px;width:600px;text-align:right;-webkit-text-stroke:0.15px #000;">1 251 542,00 <span class="rub">Р</span></div>
<div class="a" style="top:858.19px;font-size:11.6px;line-height:11.6px;color:#000;left:636.20px;width:600px;text-align:right;-webkit-text-stroke:0.15px #000;">1 152 405,00 <span class="rub">Р</span></div>
<div class="a" style="left:432px;top:622px;width:615px;height:2px;background:#8c8c8c"></div>
<div class="a" style="left:1139px;top:622px;width:101px;height:2px;background:#8c8c8c"></div>
<div class="a" style="left:432px;top:780px;width:615px;height:2px;background:#8c8c8c"></div>
<div class="a" style="left:1139px;top:780px;width:101px;height:2px;background:#8c8c8c"></div>
<div class="a" style="top:575.75px;font-size:19.2px;line-height:19.2px;color:#bdbdfb;letter-spacing:-0.9px;left:566.00px;-webkit-text-stroke:0.3px #bdbdfb;">Page1</div>
<div class="a" style="top:575.75px;font-size:19.2px;line-height:19.2px;color:#bdbdfb;letter-spacing:-0.9px;left:1657.30px;-webkit-text-stroke:0.3px #bdbdfb;">Page</div>
<div class="a" style="left:0px;top:892px;width:1695px;height:2px;background:#f0f0f0"></div>
<div class="a" style="left:0px;top:894px;width:1383px;height:29px;background:#fff;border-top:1px solid #c9c9c9;border-left:1px solid #c9c9c9;border-right:1px solid #c9c9c9"></div>
<div class="a" style="left:1383px;top:894px;width:4px;height:29px;background:#f0f0f0"></div>
<div class="a" style="left:1387px;top:894px;width:308px;height:29px;background:#fff;border-top:1px solid #c9c9c9;border-left:1px solid #c9c9c9"></div>
<div class="a" style="left:1370px;top:896px;width:12px;height:27px;background:#f6f6f6"></div>
<div class="a" style="left:1683px;top:896px;width:12px;height:27px;background:#f6f6f6"></div>
<svg class="a" style="left:1373px;top:915px" width="7" height="7" viewBox="0 0 7 7"><path d="M0 0.5H7" stroke="#8b8fa0" stroke-width="1"/><path d="M0 3H7L3.5 6.5Z" fill="#8b8fa0"/></svg>
<svg class="a" style="left:1686px;top:915px" width="7" height="7" viewBox="0 0 7 7"><path d="M0 0.5H7" stroke="#8b8fa0" stroke-width="1"/><path d="M0 3H7L3.5 6.5Z" fill="#8b8fa0"/></svg>
<svg class="a" style="left:14px;top:904px" width="9" height="12" viewBox="0 0 9 12"><rect x="0" y="0" width="3" height="12" fill="#b5cbe2"/><path d="M9 0.5V11L3 5.8Z" fill="#b5cbe2"/></svg>
<svg class="a" style="left:40px;top:904px" width="6" height="12" viewBox="0 0 6 12"><path d="M6 0.5V11L0 5.8Z" fill="#b5cbe2"/></svg>
<div class="a" style="left:57px;top:898px;width:1px;height:24px;background:#c9c9c9"></div>
<div class="a" style="top:903.82px;font-size:11.2px;line-height:11.2px;color:#333;left:82.40px;">Page 1 of 6</div>
<div class="a" style="left:163px;top:898px;width:1px;height:24px;background:#c9c9c9"></div>
<svg class="a" style="left:176px;top:904px" width="6" height="11" viewBox="0 0 6 11"><path d="M0 0V11L6 5.5Z" fill="#3e7bb8"/></svg>
<svg class="a" style="left:198px;top:904px" width="9" height="12" viewBox="0 0 9 12"><path d="M0 0.5V11L6 5.8Z" fill="#3e7bb8"/><rect x="6" y="0" width="3" height="12" fill="#3e7bb8"/></svg>
<div class="a" style="left:1401px;top:904px;width:10px;height:12px;border:1px solid #a9b9de"></div>
<div class="a" style="left:1418px;top:898px;width:24px;height:24px;background:#99cbc2"></div>
<div class="a" style="left:1425px;top:904px;width:9px;height:5px;background:#fff;border:1px solid #a9b9de"></div>
<div class="a" style="left:1425px;top:911px;width:9px;height:5px;background:#fff;border:1px solid #a9b9de"></div>
<svg class="a" style="left:1448px;top:904px" width="11" height="11" viewBox="0 0 11 11" fill="none" stroke="#a9b9de" stroke-width="1"><path d="M0.5 0V4.5H4.5V0M6.5 0V4.5H10.5V0M0.5 11V6.5H4.5V11M6.5 11V6.5H10.5V11"/></svg>
<div class="a" style="left:1468px;top:898px;width:1px;height:24px;background:#c9c9c9"></div>
<div class="a" style="top:903.61px;font-size:11.8px;line-height:11.8px;color:#333;left:1485.50px;">100%</div>
<div class="a" style="left:1528px;top:909px;width:8px;height:2px;background:#6fb3a4"></div>
<div class="a" style="left:1544px;top:910px;width:120px;height:1.3px;background:#6fb3a4"></div>
<div class="a" style="left:1602px;top:904px;width:3px;height:12px;background:#6fb3a4"></div>
<div class="a" style="left:1673px;top:909px;width:8px;height:2px;background:#6fb3a4"></div>
<div class="a" style="left:1676px;top:906px;width:2px;height:8px;background:#6fb3a4"></div>
</body></html>
